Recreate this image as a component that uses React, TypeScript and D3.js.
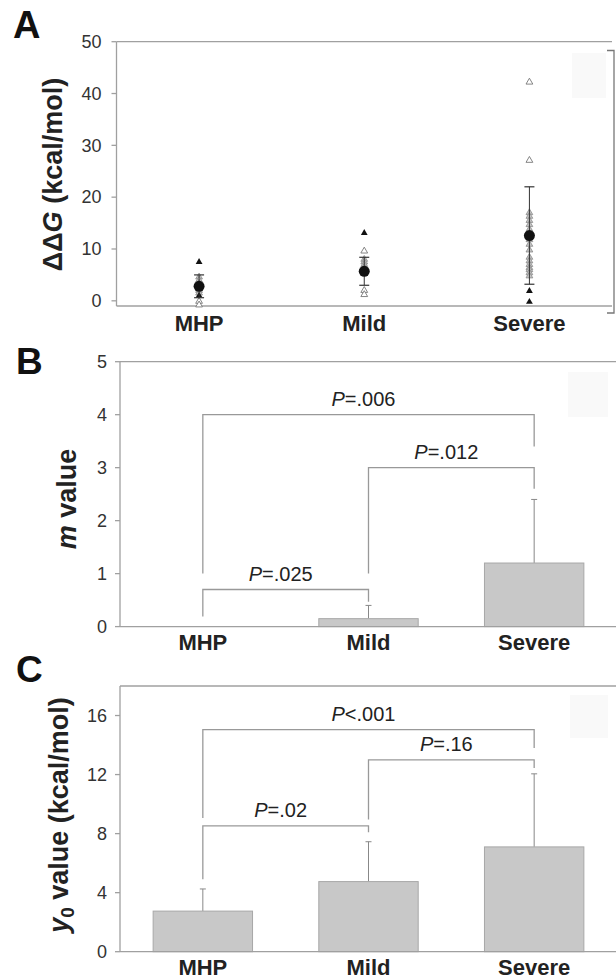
import React from 'react';
import * as d3 from 'd3';

const groups = ['MHP', 'Mild', 'Severe'];

// A: ddG scatter
const ddgTicks = [0, 10, 20, 30, 40, 50];
const ddgMean = [2.8, 5.7, 12.6];
const ddgSd = [2.2, 2.7, 9.4];
const ddgFilled = [[7.5, 1.0], [13.1], [1.9, -0.2]];
const ddgOpen = [[-0.1, -0.8], [9.6, 2.0, 1.2], [42.2, 27.1]];
const ddgGray = [
  [4.6, 4.0, 3.4, 2.0, 1.5],
  [8.0, 7.5, 7.0, 6.5, 6.0],
  [17.0, 16.3, 15.5, 14.7, 13.8, 11.8, 10.9, 9.8, 8.4, 7.7, 7.0, 6.4, 6.0, 5.4, 4.8],
];

// B: m value bars
const mTicks = [0, 1, 2, 3, 4, 5];
const mMean = [0, 0.15, 1.2];
const mErr = [0, 0.25, 1.2];
const mBrackets = [
  { from: 0, to: 1, top: 0.7, legFrom: 0.19, legTo: 0.47, op: '=', p: '.025' },
  { from: 1, to: 2, top: 3.0, legFrom: 1.0, legTo: 2.6, op: '=', p: '.012' },
  { from: 0, to: 2, top: 4.0, legFrom: 1.0, legTo: 3.4, op: '=', p: '.006' },
];

// C: y0 value bars
const y0Ticks = [0, 4, 8, 12, 16];
const y0Mean = [2.75, 4.75, 7.1];
const y0Err = [1.5, 2.7, 4.95];
const y0Brackets = [
  { from: 0, to: 1, top: 8.53, legFrom: 4.9, legTo: 8.1, op: '=', p: '.02' },
  { from: 1, to: 2, top: 13.0, legFrom: 8.95, legTo: 12.45, op: '=', p: '.16' },
  { from: 0, to: 2, top: 15.05, legFrom: 9.06, legTo: 13.8, op: '<', p: '.001' },
];

const FONT = '"Liberation Sans", Arial, sans-serif';
const AXIS = '#a0a0a0';
const tri = d3.symbol().type(d3.symbolTriangle).size(20)() as string;

type Bracket = typeof mBrackets[number];

function YAxis({ y, ticks, x0, gap }: { y: d3.ScaleLinear<number, number>; ticks: number[]; x0: number; gap: number }) {
  return (
    <g>
      {ticks.map(t => (
        <g key={t}>
          <line x1={x0 - 5} x2={x0} y1={y(t)} y2={y(t)} stroke={AXIS} strokeWidth={1.3} />
          <text x={x0 - gap} y={y(t)} dy="0.35em" textAnchor="end" fontSize={18} fill="#333">{t}</text>
        </g>
      ))}
    </g>
  );
}

function BarPanel({ top, bottom, domain, ticks, means, errs, brackets }: {
  top: number; bottom: number; domain: [number, number]; ticks: number[];
  means: number[]; errs: number[]; brackets: Bracket[];
}) {
  const x = d3.scaleBand().domain(groups).range([120, 617]).paddingInner(0.4).paddingOuter(0.2);
  const y = d3.scaleLinear().domain(domain).range([bottom, top]);
  const cx = (i: number) => (x(groups[i]) as number) + x.bandwidth() / 2;
  return (
    <g>
      <line x1={120} x2={616} y1={y(domain[1])} y2={y(domain[1])} stroke={AXIS} strokeWidth={1.3} />
      {means.map((m, i) => m > 0 && (
        <g key={i}>
          <line x1={cx(i)} x2={cx(i)} y1={y(m)} y2={y(m + errs[i])} stroke="#888" strokeWidth={1} />
          <line x1={cx(i) - 3} x2={cx(i) + 3} y1={y(m + errs[i])} y2={y(m + errs[i])} stroke="#888" strokeWidth={1} />
          <rect x={x(groups[i])} y={y(m)} width={x.bandwidth()} height={y(0) - y(m)} fill="#c8c8c8" stroke="#a8a8a8" strokeWidth={1} />
        </g>
      ))}
      {brackets.map((b, i) => {
        const path = d3.path();
        path.moveTo(cx(b.from), y(b.legFrom));
        path.lineTo(cx(b.from), y(b.top));
        path.lineTo(cx(b.to), y(b.top));
        path.lineTo(cx(b.to), y(b.legTo));
        return (
          <g key={i}>
            <path d={path.toString()} fill="none" stroke="#999" strokeWidth={1.3} />
            <text x={(cx(b.from) + cx(b.to)) / 2 - 5} y={y(b.top) - 9} textAnchor="middle" fontSize={20} fill="#222">
              <tspan fontStyle="italic">P</tspan>{b.op + b.p}
            </text>
          </g>
        );
      })}
      <line x1={120} x2={120} y1={y(domain[1])} y2={y(0)} stroke={AXIS} strokeWidth={1.3} />
      <line x1={120} x2={616} y1={y(0)} y2={y(0)} stroke={AXIS} strokeWidth={1.3} />
      <YAxis y={y} ticks={ticks} x0={120} gap={13} />
      {groups.map((g, i) => (
        <text key={g} x={cx(i)} y={bottom + 23} textAnchor="middle" fontSize={22} fontWeight="bold" fill="#222">{g}</text>
      ))}
    </g>
  );
}

function ScatterPanel() {
  const x = d3.scalePoint().domain(groups).range([116.5, 612]).padding(0.5);
  const y = d3.scaleLinear().domain([-1, 50]).range([306, 41.7]);
  const px = (i: number) => x(groups[i]) as number;
  return (
    <g>
      <line x1={116.5} x2={612} y1={y(50)} y2={y(50)} stroke={AXIS} strokeWidth={1.3} />
      <line x1={116.5} x2={612} y1={y(-1)} y2={y(-1)} stroke={AXIS} strokeWidth={1.3} />
      <line x1={116.5} x2={116.5} y1={y(50)} y2={y(-1)} stroke={AXIS} strokeWidth={1.3} />
      <path d="M607,50.5H614V313H607" fill="none" stroke="#777" strokeWidth={1.3} />
      <YAxis y={y} ticks={ddgTicks} x0={116.5} gap={15} />
      {groups.map((g, i) => (
        <g key={g}>
          {ddgGray[i].map((v, j) => (
            <path key={'g' + j} d={tri} transform={`translate(${px(i)},${y(v)})`} fill="#c4c4c4" stroke="#8a8a8a" strokeWidth={0.8} />
          ))}
          {ddgOpen[i].map((v, j) => (
            <path key={'o' + j} d={tri} transform={`translate(${px(i)},${y(v)})`} fill="#fff" stroke="#777" strokeWidth={0.9} />
          ))}
          {ddgFilled[i].map((v, j) => (
            <path key={'f' + j} d={tri} transform={`translate(${px(i)},${y(v)})`} fill="#111" />
          ))}
          <line x1={px(i)} x2={px(i)} y1={y(ddgMean[i] - ddgSd[i])} y2={y(ddgMean[i] + ddgSd[i])} stroke="#333" strokeWidth={1} />
          <line x1={px(i) - 5} x2={px(i) + 5} y1={y(ddgMean[i] + ddgSd[i])} y2={y(ddgMean[i] + ddgSd[i])} stroke="#333" strokeWidth={1.2} />
          <line x1={px(i) - 5} x2={px(i) + 5} y1={y(ddgMean[i] - ddgSd[i])} y2={y(ddgMean[i] - ddgSd[i])} stroke="#333" strokeWidth={1.2} />
          <circle cx={px(i)} cy={y(ddgMean[i])} r={5.5} fill="#111" />
          <text x={px(i)} y={331} textAnchor="middle" fontSize={22} fontWeight="bold" fill="#222">{g}</text>
        </g>
      ))}
    </g>
  );
}

export default function App() {
  return (
    <svg width={616} height={979} style={{ position: 'absolute', left: 0, top: 0, background: '#fff' }} fontFamily={FONT}>
      <rect width={616} height={979} fill="#fff" />
      <rect x={572} y={53} width={34} height={45} fill="#f9f9f9" />
      <rect x={568} y={372} width={40} height={45} fill="#f9f9f9" />
      <rect x={570} y={695} width={38} height={43} fill="#f9f9f9" />

      <text x={13} y={38} fontSize={38} fontWeight="bold" fill="#111">A</text>
      <text x={16} y={374} fontSize={37} fontWeight="bold" fill="#111">B</text>
      <text x={16} y={682} fontSize={37} fontWeight="bold" fill="#111">C</text>

      <ScatterPanel />
      <BarPanel top={361.7} bottom={626.6} domain={[0, 5]} ticks={mTicks} means={mMean} errs={mErr} brackets={mBrackets} />
      <BarPanel top={686} bottom={951.7} domain={[0, 18]} ticks={y0Ticks} means={y0Mean} errs={y0Err} brackets={y0Brackets} />

      <text transform="translate(53,174.5) rotate(-90)" dy="0.35em" textAnchor="middle" fontSize={27} fontWeight="bold" fill="#222">
        ΔΔ<tspan fontStyle="italic">G</tspan> (kcal/mol)
      </text>
      <text transform="translate(67,499) rotate(-90)" dy="0.35em" textAnchor="middle" fontSize={27} fontWeight="bold" fill="#222">
        <tspan fontStyle="italic">m</tspan> value
      </text>
      <text transform="translate(59,815) rotate(-90)" dy="0.35em" textAnchor="middle" fontSize={27} fontWeight="bold" fill="#222">
        <tspan fontStyle="italic">y</tspan><tspan fontSize={19} dy="6">0</tspan><tspan dy="-6"> value (kcal/mol)</tspan>
      </text>
    </svg>
  );
}
